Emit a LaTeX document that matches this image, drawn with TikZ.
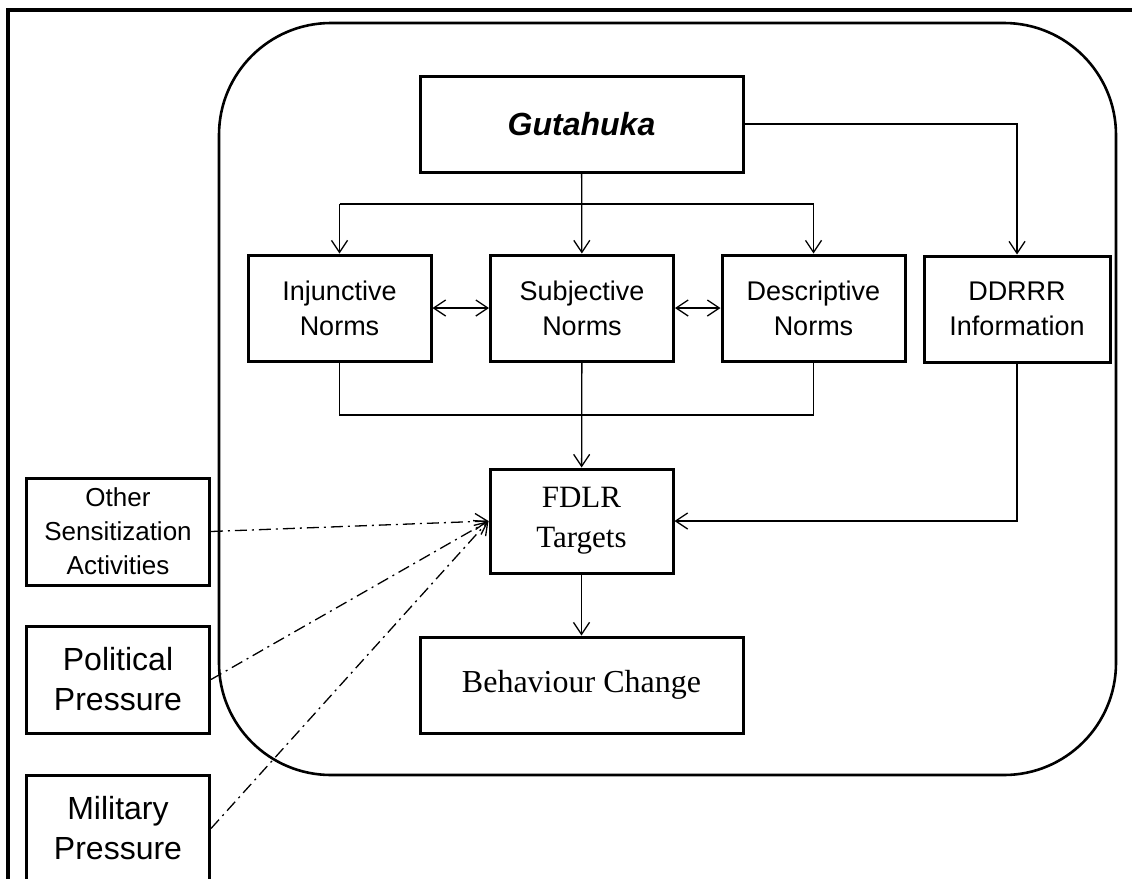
\documentclass[tikz,border=0pt]{standalone}
\usepackage{fontspec}
\setmainfont{Liberation Sans}
\newfontfamily\tnr{Liberation Serif}
\usetikzlibrary{positioning,arrows.meta}

\begin{document}
\begin{tikzpicture}[x=0.5pt,y=-0.5pt,
  bx/.style={draw,line width=1.5pt,minimum width=91.5pt,minimum height=53pt,inner sep=2pt,align=center,
    font=\fontsize{13.5}{17.5}\selectfont},
  wd/.style={bx,minimum width=161.5pt,minimum height=48pt},
  sf/.style={bx,minimum height=53.5pt},
  ln/.style={line width=.65pt},
  ar/.style={ln,-{Straight Barb[length=6pt,width=8pt]}},
  dar/.style={ln,{Straight Barb[length=6pt,width=8pt]}-{Straight Barb[length=6pt,width=8pt]}},
  dd/.style={ar,dash pattern=on 6pt off 2.5pt on 1pt off 2.5pt}]
\useasboundingbox (0,0) rectangle (1132,879);
% page frame and the rounded panel
\draw[line width=1.6pt] (8,900) |- (1150,10);
\draw[line width=1.3pt,rounded corners=56pt] (219,23) rectangle (1116,775);
\node[wd,font=\fontsize{16}{20}\selectfont\bfseries\itshape] (gut) at (581.5,124) {Gutahuka};
\node[bx] (inj) at (339.5,308) {Injunctive\\Norms};
\node[bx] (sub) at (582,308) {Subjective\\Norms};
\node[bx] (des) at (813.5,308) {Descriptive\\Norms};
\node[bx,minimum width=93pt] (ddr) at (1017,309) {DDRRR\\Information};
\node[bx,minimum height=52pt,font=\fontsize{15.5}{20}\tnr] (fdlr) at (581.5,521) {FDLR\\Targets};
\node[wd,font=\fontsize{16}{20}\tnr] (beh) at (581.5,685) {Behaviour Change};
\node[sf,font=\fontsize{13}{17}\selectfont] (oth) at (118,531.5) {Other\\Sensitization\\Activities};
\node[sf,font=\fontsize{16}{20}\selectfont] (pol) at (118,679.5) {Political\\Pressure};
\node[sf,font=\fontsize{16}{20}\selectfont] (mil) at (118,828.5) {Military\\Pressure};
\coordinate (spl) at (581.5,204);
\coordinate (jn) at (581.5,415);
\draw[ln] (inj.north |- spl) -- (des.north |- spl);
\draw[ar] (gut) -- (sub);
\draw[ar] (inj.north |- spl) -- (inj.north);
\draw[ar] (des.north |- spl) -- (des.north);
\draw[ar] (gut.east) -| (ddr.north);
\draw[dar] (inj) -- (sub);
\draw[dar] (sub) -- (des);
\draw[ln] (inj.south) |- (jn) -| (des.south);
\draw[ar] (sub) -- (fdlr);
\draw[ar] (ddr.south) |- (fdlr.east);
\draw[ar] (fdlr) -- (beh);
% outside pressures, dash-dotted
\draw[dd] (oth.east) -- (fdlr.west);
\draw[dd] (pol.east) -- (fdlr.west);
\draw[dd] (mil.east) -- (fdlr.west);
\end{tikzpicture}
\end{document}
